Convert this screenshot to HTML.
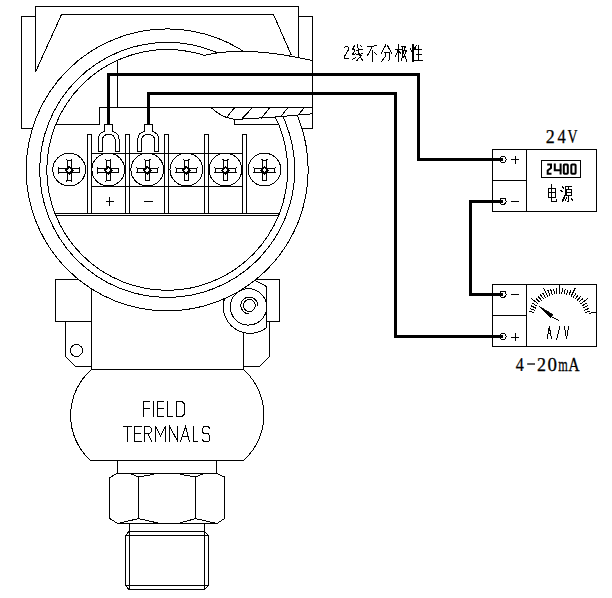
<!DOCTYPE html>
<html><head><meta charset="utf-8"><style>
html,body{margin:0;padding:0;background:#fff;}
svg{display:block;}
.t{font-family:"Liberation Serif",serif;fill:#000;}
</style></head><body>
<svg width="612" height="598" viewBox="0 0 612 598">
<rect width="612" height="598" fill="#fff"/>
<g stroke="#000" fill="none" shape-rendering="crispEdges">
<path d="M35.50,16.50 L21.50,16.50 L21.50,128.50 L32.41,128.50" stroke-width="1" fill="none"/>
<path d="M298.50,16.50 L312.50,16.50 L312.50,128.50 L301.99,128.50" stroke-width="1" fill="none"/>
<path d="M35.50,72.00 L35.50,6.50 L298.50,6.50 L298.50,56.50" stroke-width="1" fill="none"/>
<path d="M35.50,72.00 L61.50,14.50 L273.50,14.50 L291.50,55.50" stroke-width="1" fill="none"/>
<path d="M78.49,279.50 L55.50,279.50 L55.50,321.50 L91.50,321.50" stroke-width="1" fill="none"/>
<path d="M65.50,321.50 L65.50,356.50 L75.50,366.50 L91.50,366.50" stroke-width="1" fill="none"/>
<circle cx="76.5" cy="350.5" r="6" stroke-width="1" fill="none"/>
<path d="M255.91,279.50 L279.50,279.50 L279.50,321.50 L266.50,321.50" stroke-width="1" fill="none"/>
<path d="M269.50,321.50 L269.50,356.50 L259.50,366.50 L243.50,366.50" stroke-width="1" fill="none"/>
<path d="M91.50,288.86 L91.50,369.50 L243.50,369.50 L243.50,332.00" stroke-width="1" fill="none"/>
<circle cx="167.2" cy="169.9" r="141.0" stroke-width="1" fill="#fff"/>
<path d="M224.4,298.8 A26.8,26.8 0 0 0 266.5,327.7 L266.5,286.5 L255.2,280.4" stroke-width="1" fill="#fff" />
<circle cx="167.2" cy="169.9" r="141.0" stroke-width="1" fill="none"/>
<circle cx="248.5" cy="306.9" r="18.2" stroke-width="1" fill="none"/>
<circle cx="249.3" cy="305.5" r="6" stroke-width="1" fill="none"/>
<path d="M249.3,314 A8.5,8.5 0 1 1 257.8,305.5" stroke-width="1" fill="none" />
<circle cx="167.2" cy="169.9" r="127.5" stroke-width="1" fill="none"/>
<circle cx="167.2" cy="169.9" r="120.4" stroke-width="1" fill="none"/>
<path d="M204.8,55.3 Q245.6,45.2 312.5,60.6 L312.5,113.8 L275.2,117 L234.7,119.4 L225.9,117.2 Q216,113 211.2,107.4 L204.8,107.4 Z" fill="#fff" stroke="none"/>
<path d="M204.8,55.3 Q245.6,45.2 312.5,60.6" stroke-width="1" fill="none" />
<line x1="312.5" y1="16.5" x2="312.5" y2="128.5" stroke-width="1"/>
<line x1="298.5" y1="6.5" x2="298.5" y2="56.5" stroke-width="1"/>
<line x1="117.5" y1="60.23656033116596" x2="117.5" y2="107.5" stroke-width="1"/>
<path d="M55.69,124.50 L99.50,124.50 L99.50,107.50 L312.50,107.50" stroke-width="1" fill="none"/>
<path d="M211.2,107.5 Q216,113 225.9,117.2 L234.7,119.5 L275.2,117 L312.5,113.8" stroke-width="1" fill="none" />
<path d="M234.50,119.50 L234.50,124.50 L277.50,124.50" stroke-width="1" fill="none"/>
<line x1="226.6" y1="117.5" x2="234.7" y2="107.5" stroke-width="1"/>
<line x1="241.3" y1="119.5" x2="252.6" y2="107.5" stroke-width="1"/>
<line x1="260.9" y1="118.8" x2="269.9" y2="107.5" stroke-width="1"/>
<line x1="281.2" y1="116.2" x2="288" y2="107.5" stroke-width="1"/>
<line x1="298.5" y1="114.5" x2="304.5" y2="107.5" stroke-width="1"/>
<line x1="54.97166133279882" y1="213.5" x2="279.42833866720116" y2="213.5" stroke-width="1"/>
<line x1="55.769304049557306" y1="215.5" x2="278.63069595044266" y2="215.5" stroke-width="1"/>
<rect x="87.5" y="134.5" width="4" height="79" fill="#fff" stroke-width="1"/>
<rect x="125.5" y="134.5" width="4" height="79" fill="#fff" stroke-width="1"/>
<rect x="164.5" y="134.5" width="4" height="79" fill="#fff" stroke-width="1"/>
<rect x="204.5" y="134.5" width="4" height="79" fill="#fff" stroke-width="1"/>
<rect x="242.5" y="134.5" width="4" height="79" fill="#fff" stroke-width="1"/>
<line x1="91.5" y1="153.5" x2="242.5" y2="153.5" stroke-width="1"/>
<line x1="91.5" y1="186.5" x2="242.5" y2="186.5" stroke-width="1"/>
<circle cx="69.2" cy="169.6" r="16.4" stroke-width="1" fill="none"/>
<path d="M71.30,160.00 L71.30,168.20 L79.50,168.20 L79.50,172.40 L71.30,172.40 L71.30,180.60 L67.10,180.60 L67.10,172.40 L58.90,172.40 L58.90,168.20 L67.10,168.20 L67.10,160.00 Z" stroke-width="1" fill="none" />
<path d="M69.2,166.89999999999998 L72.60000000000001,170.29999999999998 L69.2,173.7 L65.8,170.29999999999998 Z" stroke-width="1.8" fill="none" />
<path d="M80.30,167.40 L79.50,168.20 M80.30,173.20 L79.50,172.40" stroke-width="1" fill="none" />
<path d="M58.10,167.40 L58.90,168.20 M58.10,173.20 L58.90,172.40" stroke-width="1" fill="none" />
<path d="M66.30,181.40 L67.10,180.60 M72.10,181.40 L71.30,180.60" stroke-width="1" fill="none" />
<path d="M66.30,159.20 L67.10,160.00 M72.10,159.20 L71.30,160.00" stroke-width="1" fill="none" />
<circle cx="108.25" cy="169.6" r="16.4" stroke-width="1" fill="none"/>
<path d="M110.35,160.00 L110.35,168.20 L118.55,168.20 L118.55,172.40 L110.35,172.40 L110.35,180.60 L106.15,180.60 L106.15,172.40 L97.95,172.40 L97.95,168.20 L106.15,168.20 L106.15,160.00 Z" stroke-width="1" fill="none" />
<path d="M108.25,166.89999999999998 L111.65,170.29999999999998 L108.25,173.7 L104.85,170.29999999999998 Z" stroke-width="1.8" fill="none" />
<path d="M119.35,167.40 L118.55,168.20 M119.35,173.20 L118.55,172.40" stroke-width="1" fill="none" />
<path d="M97.15,167.40 L97.95,168.20 M97.15,173.20 L97.95,172.40" stroke-width="1" fill="none" />
<path d="M105.35,181.40 L106.15,180.60 M111.15,181.40 L110.35,180.60" stroke-width="1" fill="none" />
<path d="M105.35,159.20 L106.15,160.00 M111.15,159.20 L110.35,160.00" stroke-width="1" fill="none" />
<circle cx="147.3" cy="169.6" r="16.4" stroke-width="1" fill="none"/>
<path d="M149.40,160.00 L149.40,168.20 L157.60,168.20 L157.60,172.40 L149.40,172.40 L149.40,180.60 L145.20,180.60 L145.20,172.40 L137.00,172.40 L137.00,168.20 L145.20,168.20 L145.20,160.00 Z" stroke-width="1" fill="none" />
<path d="M147.3,166.89999999999998 L150.70000000000002,170.29999999999998 L147.3,173.7 L143.9,170.29999999999998 Z" stroke-width="1.8" fill="none" />
<path d="M158.40,167.40 L157.60,168.20 M158.40,173.20 L157.60,172.40" stroke-width="1" fill="none" />
<path d="M136.20,167.40 L137.00,168.20 M136.20,173.20 L137.00,172.40" stroke-width="1" fill="none" />
<path d="M144.40,181.40 L145.20,180.60 M150.20,181.40 L149.40,180.60" stroke-width="1" fill="none" />
<path d="M144.40,159.20 L145.20,160.00 M150.20,159.20 L149.40,160.00" stroke-width="1" fill="none" />
<circle cx="186.35" cy="169.6" r="16.4" stroke-width="1" fill="none"/>
<path d="M188.45,160.00 L188.45,168.20 L196.65,168.20 L196.65,172.40 L188.45,172.40 L188.45,180.60 L184.25,180.60 L184.25,172.40 L176.05,172.40 L176.05,168.20 L184.25,168.20 L184.25,160.00 Z" stroke-width="1" fill="none" />
<path d="M186.35,166.89999999999998 L189.75,170.29999999999998 L186.35,173.7 L182.95,170.29999999999998 Z" stroke-width="1.8" fill="none" />
<path d="M197.45,167.40 L196.65,168.20 M197.45,173.20 L196.65,172.40" stroke-width="1" fill="none" />
<path d="M175.25,167.40 L176.05,168.20 M175.25,173.20 L176.05,172.40" stroke-width="1" fill="none" />
<path d="M183.45,181.40 L184.25,180.60 M189.25,181.40 L188.45,180.60" stroke-width="1" fill="none" />
<path d="M183.45,159.20 L184.25,160.00 M189.25,159.20 L188.45,160.00" stroke-width="1" fill="none" />
<circle cx="225.4" cy="169.6" r="16.4" stroke-width="1" fill="none"/>
<path d="M227.50,160.00 L227.50,168.20 L235.70,168.20 L235.70,172.40 L227.50,172.40 L227.50,180.60 L223.30,180.60 L223.30,172.40 L215.10,172.40 L215.10,168.20 L223.30,168.20 L223.30,160.00 Z" stroke-width="1" fill="none" />
<path d="M225.4,166.89999999999998 L228.8,170.29999999999998 L225.4,173.7 L222.0,170.29999999999998 Z" stroke-width="1.8" fill="none" />
<path d="M236.50,167.40 L235.70,168.20 M236.50,173.20 L235.70,172.40" stroke-width="1" fill="none" />
<path d="M214.30,167.40 L215.10,168.20 M214.30,173.20 L215.10,172.40" stroke-width="1" fill="none" />
<path d="M222.50,181.40 L223.30,180.60 M228.30,181.40 L227.50,180.60" stroke-width="1" fill="none" />
<path d="M222.50,159.20 L223.30,160.00 M228.30,159.20 L227.50,160.00" stroke-width="1" fill="none" />
<circle cx="264.45" cy="169.6" r="16.4" stroke-width="1" fill="none"/>
<path d="M266.55,160.00 L266.55,168.20 L274.75,168.20 L274.75,172.40 L266.55,172.40 L266.55,180.60 L262.35,180.60 L262.35,172.40 L254.15,172.40 L254.15,168.20 L262.35,168.20 L262.35,160.00 Z" stroke-width="1" fill="none" />
<path d="M264.45,166.89999999999998 L267.84999999999997,170.29999999999998 L264.45,173.7 L261.05,170.29999999999998 Z" stroke-width="1.8" fill="none" />
<path d="M275.55,167.40 L274.75,168.20 M275.55,173.20 L274.75,172.40" stroke-width="1" fill="none" />
<path d="M253.35,167.40 L254.15,168.20 M253.35,173.20 L254.15,172.40" stroke-width="1" fill="none" />
<path d="M261.55,181.40 L262.35,180.60 M267.35,181.40 L266.55,180.60" stroke-width="1" fill="none" />
<path d="M261.55,159.20 L262.35,160.00 M267.35,159.20 L266.55,160.00" stroke-width="1" fill="none" />
<line x1="105.5" y1="201.5" x2="113.5" y2="201.5" stroke-width="1"/>
<line x1="109.5" y1="196.5" x2="109.5" y2="206" stroke-width="1"/>
<line x1="144.2" y1="201.5" x2="152.8" y2="201.5" stroke-width="1.3"/>
<path d="M98.4,151.5 L98.4,139 Q98.4,133 104.7,131.4 L104.7,124.5 L112.7,124.5 L112.7,131.4 Q119.0,133 119.0,139 L119.0,151.5 L115.3,151.5 L115.3,141 Q115.3,134.5 108.7,134.5 Q102.10000000000001,134.5 102.10000000000001,141 L102.10000000000001,151.5 Z" stroke-width="1" fill="#fff" />
<path d="M137.89999999999998,151.5 L137.89999999999998,139 Q137.89999999999998,133 144.2,131.4 L144.2,124.5 L152.2,124.5 L152.2,131.4 Q158.5,133 158.5,139 L158.5,151.5 L154.79999999999998,151.5 L154.79999999999998,141 Q154.79999999999998,134.5 148.2,134.5 Q141.6,134.5 141.6,141 L141.6,151.5 Z" stroke-width="1" fill="#fff" />
<path d="M91.5,369.5 A61,61 0 0 0 90.5,460.5 L243.5,460.5 A61,61 0 0 0 243.5,369.5" stroke-width="1" fill="none" />
<line x1="117.5" y1="460.5" x2="117.5" y2="473.5" stroke-width="1"/>
<line x1="216.5" y1="460.5" x2="216.5" y2="473.5" stroke-width="1"/>
<path d="M117.00,473.50 L216.50,473.50 L224.50,477.00 L224.50,518.50 L217.00,523.50 L117.70,523.50 L109.80,518.50 L109.80,477.60 Z" stroke-width="1" fill="none"/>
<line x1="138.5" y1="477" x2="138.5" y2="518.6" stroke-width="1"/>
<line x1="195.5" y1="477" x2="195.5" y2="518.6" stroke-width="1"/>
<path d="M130.20,473.50 L138.50,477.00 L153.60,474.30" stroke-width="1" fill="none"/>
<path d="M180.40,474.30 L195.50,477.00 L204.00,473.50" stroke-width="1" fill="none"/>
<path d="M117.70,523.50 L138.50,518.60 L160.00,523.50" stroke-width="1" fill="none"/>
<path d="M178.00,523.50 L195.50,518.60 L216.90,523.50" stroke-width="1" fill="none"/>
<line x1="129.5" y1="523.5" x2="129.5" y2="531.5" stroke-width="1"/>
<line x1="204.5" y1="523.5" x2="204.5" y2="531.5" stroke-width="1"/>
<path d="M129.00,531.50 L204.50,531.50 L208.50,535.50 L208.50,585.50 L204.50,589.50 L129.00,589.50 L125.50,585.50 L125.50,535.50 Z" stroke-width="1" fill="none"/>
<line x1="125.5" y1="535.5" x2="208.5" y2="535.5" stroke-width="1"/>
<line x1="125.5" y1="585.5" x2="208.5" y2="585.5" stroke-width="1"/>
<line x1="129.5" y1="531.5" x2="129.5" y2="589.5" stroke-width="1"/>
<line x1="204.5" y1="531.5" x2="204.5" y2="589.5" stroke-width="1"/>
<path d="M108.5,124 L108.5,74.5 L418.5,74.5 L418.5,159.5 L503,159.5" stroke-width="3" fill="none" stroke-linejoin="miter"/>
<path d="M148.5,124 L148.5,93.5 L395.5,93.5 L395.5,336.5 L503,336.5" stroke-width="3" fill="none" />
<path d="M503,201.3 L470.5,201.3 L470.5,294.3 L503,294.3" stroke-width="3" fill="none" />
<rect x="492.5" y="149.5" width="104" height="61.5" fill="none" stroke-width="1"/>
<line x1="526.5" y1="149.5" x2="526.5" y2="211" stroke-width="1"/>
<line x1="492.5" y1="180.5" x2="526.5" y2="180.5" stroke-width="1"/>
<circle cx="503" cy="159.4" r="3.1" stroke-width="1" fill="none"/>
<circle cx="503" cy="201.3" r="3.1" stroke-width="1" fill="none"/>
<line x1="511.3" y1="159.5" x2="519.1" y2="159.5" stroke-width="1"/>
<line x1="515.3" y1="155.5" x2="515.3" y2="163.5" stroke-width="1"/>
<line x1="511.3" y1="201.5" x2="519.1" y2="201.5" stroke-width="1.2"/>
<rect x="541.5" y="160.5" width="39" height="17" fill="none" stroke-width="1"/>
<rect x="492.5" y="284.5" width="104" height="61.5" fill="none" stroke-width="1"/>
<line x1="526.5" y1="284.5" x2="526.5" y2="346" stroke-width="1"/>
<line x1="492.5" y1="315.5" x2="526.5" y2="315.5" stroke-width="1"/>
<circle cx="503" cy="294.3" r="3.1" stroke-width="1" fill="none"/>
<circle cx="503" cy="336.5" r="3.1" stroke-width="1" fill="none"/>
<line x1="511" y1="294.5" x2="519" y2="294.5" stroke-width="1.2"/>
<line x1="511.1" y1="337" x2="519.1" y2="337" stroke-width="1"/>
<line x1="515.1" y1="333" x2="515.1" y2="341" stroke-width="1"/>
<line x1="584.81" y1="312.67" x2="590.08" y2="311.11" stroke-width="1"/>
<line x1="584.01" y1="310.38" x2="589.12" y2="308.34" stroke-width="1"/>
<line x1="583.01" y1="308.17" x2="587.91" y2="305.67" stroke-width="1"/>
<line x1="581.81" y1="306.06" x2="586.46" y2="303.12" stroke-width="1"/>
<line x1="580.42" y1="304.07" x2="587.96" y2="298.28" stroke-width="1"/>
<line x1="578.86" y1="302.21" x2="582.9" y2="298.48" stroke-width="1"/>
<line x1="577.13" y1="300.51" x2="580.81" y2="296.42" stroke-width="1"/>
<line x1="575.26" y1="298.97" x2="578.55" y2="294.56" stroke-width="1"/>
<line x1="573.25" y1="297.61" x2="576.12" y2="292.92" stroke-width="1"/>
<line x1="571.12" y1="296.43" x2="575.32" y2="287.91" stroke-width="1"/>
<line x1="568.9" y1="295.46" x2="570.87" y2="290.33" stroke-width="1"/>
<line x1="566.59" y1="294.69" x2="568.09" y2="289.4" stroke-width="1"/>
<line x1="564.23" y1="294.14" x2="565.23" y2="288.74" stroke-width="1"/>
<line x1="561.82" y1="293.81" x2="562.33" y2="288.33" stroke-width="1"/>
<line x1="559.4" y1="293.7" x2="559.4" y2="284.5" stroke-width="1"/>
<line x1="556.98" y1="293.81" x2="556.47" y2="288.33" stroke-width="1"/>
<line x1="554.57" y1="294.14" x2="553.57" y2="288.74" stroke-width="1"/>
<line x1="552.21" y1="294.69" x2="550.71" y2="289.4" stroke-width="1"/>
<line x1="549.9" y1="295.46" x2="547.93" y2="290.33" stroke-width="1"/>
<line x1="547.68" y1="296.43" x2="543.48" y2="287.91" stroke-width="1"/>
<line x1="545.55" y1="297.61" x2="542.68" y2="292.92" stroke-width="1"/>
<line x1="543.54" y1="298.97" x2="540.25" y2="294.56" stroke-width="1"/>
<line x1="541.67" y1="300.51" x2="537.99" y2="296.42" stroke-width="1"/>
<line x1="539.94" y1="302.21" x2="535.9" y2="298.48" stroke-width="1"/>
<line x1="538.38" y1="304.07" x2="530.84" y2="298.28" stroke-width="1"/>
<line x1="536.99" y1="306.06" x2="532.34" y2="303.12" stroke-width="1"/>
<line x1="535.79" y1="308.17" x2="530.89" y2="305.67" stroke-width="1"/>
<line x1="534.79" y1="310.38" x2="529.68" y2="308.34" stroke-width="1"/>
<line x1="533.99" y1="312.67" x2="528.72" y2="311.11" stroke-width="1"/>
<line x1="589.2" y1="313.3" x2="596.5" y2="312.3" stroke-width="1"/>
<path d="M539.4,306.4 L552.8,314.6 L550.3,317.8 Z" stroke-width="0.8" fill="#000" />
<line x1="550.5" y1="316" x2="558.8" y2="320.6" stroke-width="1"/>
</g>
<g stroke="#000" fill="none" stroke-width="1.05" stroke-linecap="square" shape-rendering="crispEdges">
<!-- FIELD -->
<path d="M143.5,416.5 V401.5 H149.5 M143.5,408.5 H149"/>
<path d="M153.5,401.5 V416.5"/>
<path d="M163.5,401.5 H157.5 V416.5 H163.5 M157.5,408.5 H163"/>
<path d="M167.5,401.5 V416.5 H172"/>
<path d="M176.5,401.5 V416.5 H182 L184.5,414 V404 L182,401.5 Z"/>
<!-- TERMNALS -->
<path d="M123.5,426.5 H131 M127.5,426.5 V441.5"/>
<path d="M141,426.5 H134.5 V441.5 H141 M134.5,433.8 H140.4"/>
<path d="M144.5,441.5 V426.5 H149.5 L151.4,428.5 V431.8 L149.5,433.8 H144.5 M148,433.8 L151.8,441.5"/>
<path d="M155.7,441.5 V426.5 L160.5,435.7 L165.5,426.5 V441.5"/>
<path d="M169.5,441.5 V426.5 L177.8,441.5 V426.5"/>
<path d="M180.5,441.8 L185.5,426.5 L189.5,441.8 M182.5,436.5 H188"/>
<path d="M193.5,426.5 V441.5 H197.8"/>
<path d="M209.8,428.2 L208.2,426.5 H204.2 L202.5,428.3 V432 L204.2,433.8 H208.2 L209.9,435.8 V439.8 L208.2,441.6 H204.2 L202.5,439.9"/>
</g>
<g stroke="#000" fill="none" stroke-width="1" stroke-linecap="square" shape-rendering="crispEdges">
<!-- 2 -->
<path d="M344.5,47.5 L346,46 H347.5 L348.3,47.5 V50 L344.5,56.5 V58.3 H348.3"/>
<!-- 线 -->
<path d="M354.5,45.5 L352.5,49.5 L355,50 L352.5,54.5 L355.5,53.8 M352.5,59.5 L355.5,57.5"/>
<path d="M356.3,50.5 L362.5,49.3 M356.5,55 L362.2,53.8 M357.5,44.5 L358.8,53 L360.8,57.5 L363,61 M361.3,55.3 L357,60.5 M360.5,45.5 L361.3,46.3"/>
<!-- 不 -->
<path d="M367.8,46.5 L376.5,45.8 M372.5,46.5 L367.5,55.5 M372.5,50 V61.5 M374.8,52.8 L376.5,54.8"/>
<!-- 分 -->
<path d="M385.8,45 L381.5,53 M387.2,45 L391.5,53 M384,52.5 H389.8 L389.5,60.5 L388,61 M386,53 L385,57 L381.5,61.5"/>
<!-- 极 -->
<path d="M395.5,49.5 H401 M398.5,44.5 V61.5 M398,50.5 L395.5,56 M399,51.5 L400.8,53.5"/>
<path d="M401.5,46 H405.5 L404,50.5 H406.5 L403,58 M402.8,46 V53 L401.5,61 M403,51.5 L406.8,61"/>
<!-- 性 -->
<path d="M412.5,44.5 V61.5 M413.2,44.5 V61.5 M410.7,48 L411.2,52 M414.3,47.5 L415.2,49"/>
<path d="M416.3,45.5 L415,49.5 M415.5,49.8 H421.8 M418.5,45 V60.5 M416,54.8 H421.5 M414,60.5 H422.4"/>
<!-- 电 -->
<path d="M548.5,188 V197.5 M548.5,188 H555.3 V197.2 M548.5,192.6 H555.3 M548.5,197.2 H555.3 M551.6,184.5 V201.3 H556.8 V199.5"/>
<!-- 源 -->
<path d="M562.5,187 L563.5,188 M561.2,190.5 L562.2,191.5 M562.2,200.8 L564.7,195.2"/>
<path d="M565,186.5 H571.7 M565,186.5 V196 L563,201.3 M566.5,189 H571 V195 H566.5 Z M566.5,192 H571 M568.8,187 L568,189 M568.8,195 V202 L567.8,201.5 M566.5,197.8 L565.3,200 M571,197.8 L572.6,200.5"/>
<!-- A/V -->
<path d="M547.3,338.5 L549.3,326.5 L551.4,338.5 M548.2,333.5 H550.6"/>
<path d="M559.8,326.3 L556.6,340"/>
<path d="M564.3,326.5 L566.5,338.5 L568.7,326.5"/>
</g>
<g stroke="#000" fill="none" stroke-width="2" stroke-linecap="butt">
<!-- 2400 seven segment -->
<path d="M547.2,164.5 H551 V168 L547.7,170.5 V173.7 H551.5"/>
<path d="M554.8,163.5 V170.3 H561.7 M560.6,163.5 V174.6"/>
<rect x="563.8" y="164.4" width="4" height="9.3" rx="0.8"/>
<rect x="571.3" y="164.4" width="4.3" height="9.3" rx="0.8"/>
</g>
<g font-family="Liberation Serif, serif" fill="#000" stroke="#000" stroke-width="0.25">
<text transform="translate(545.80 143.4) scale(1.0 1)" font-size="18">2</text>
<text transform="translate(557.60 143.4) scale(0.92 1)" font-size="18">4</text>
<text transform="translate(567.53 143.4) scale(0.77 1)" font-size="18">V</text>
<text transform="translate(515.80 370.8) scale(0.9 1)" font-size="18">4</text>
<text transform="translate(537.00 370.8) scale(1.0 1)" font-size="18">2</text>
<text transform="translate(547.55 370.8) scale(1.05 1)" font-size="18">0</text>
<text transform="translate(558.32 370.8) scale(0.68 1)" font-size="18">m</text>
<text transform="translate(568.13 370.8) scale(0.87 1)" font-size="18">A</text>
</g>
<line x1="527.2" y1="364" x2="535" y2="364" stroke="#000" stroke-width="1.3"/>

</svg>
</body></html>
